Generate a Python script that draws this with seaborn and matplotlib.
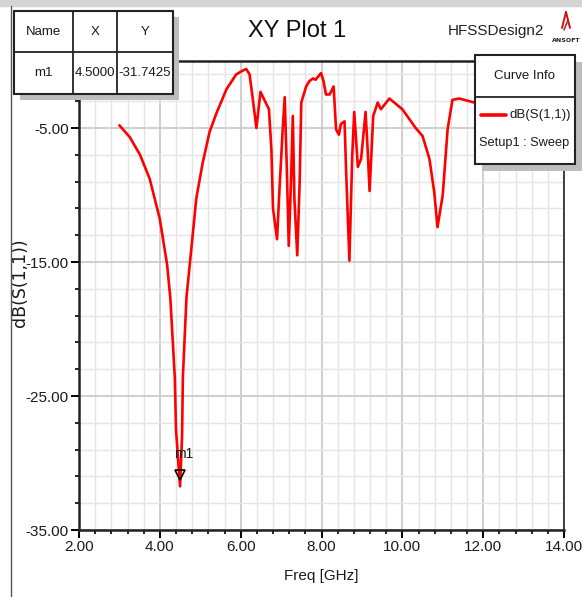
import matplotlib
matplotlib.use("Agg")
import matplotlib.pyplot as plt
import matplotlib.transforms as mtransforms
from matplotlib.patches import Rectangle
from matplotlib.lines import Line2D
from matplotlib.ticker import MultipleLocator, FixedLocator
import seaborn as sns
import pandas as pd

# S11 sweep (GHz, dB)
freq_ghz = [3.00, 3.26, 3.51, 3.75, 4.00, 4.18, 4.26, 4.37, 4.40, 4.50,
            4.55, 4.57, 4.66, 4.78, 4.90, 5.06, 5.23, 5.40, 5.65, 5.89,
            6.06, 6.14, 6.22, 6.26, 6.39, 6.49, 6.70, 6.76, 6.80, 6.90,
            6.96, 7.04, 7.09, 7.14, 7.19, 7.25, 7.29, 7.33, 7.40, 7.46,
            7.50, 7.62, 7.70, 7.79, 7.85, 7.99, 8.05, 8.11, 8.20, 8.30,
            8.36, 8.43, 8.48, 8.57, 8.61, 8.69, 8.76, 8.81, 8.90, 8.98,
            9.09, 9.14, 9.19, 9.28, 9.39, 9.47, 9.68, 10.00, 10.33, 10.50,
            10.67, 10.79, 10.87, 11.00, 11.12, 11.24, 11.41, 11.78, 12.00]
s11_db = [-4.8, -5.7, -7.0, -8.8, -11.8, -15.2, -17.7, -23.6, -27.5, -31.7425,
          -28.0, -23.6, -17.6, -14.0, -10.3, -7.6, -5.3, -3.9, -2.1, -1.0,
          -0.7, -0.6, -1.0, -1.9, -5.0, -2.3, -3.6, -6.6, -11.0, -13.3,
          -9.6, -5.1, -2.7, -7.8, -13.8, -8.6, -4.1, -10.3, -14.5, -9.0,
          -3.1, -1.9, -1.5, -1.3, -1.4, -0.9, -1.5, -2.5, -2.5, -1.9,
          -5.1, -5.5, -4.7, -4.5, -8.3, -14.9, -7.1, -3.8, -7.9, -7.3,
          -3.8, -6.5, -9.7, -4.1, -3.1, -3.6, -2.8, -3.6, -5.0, -5.6,
          -7.3, -9.8, -12.4, -10.0, -5.1, -2.9, -2.8, -3.1, -3.3]

# marker m1
marker_name = "m1"
marker_x = 4.5000
marker_y = -31.7425

x_ticks = [2, 4, 6, 8, 10, 12, 14]
y_ticks = [-35, -25, -15, -5]
curve_name = "dB(S(1,1))"
sweep_name = "Setup1 : Sweep"

sns.set_theme(style="white")
plt.rcParams["font.family"] = ["Liberation Sans", "DejaVu Sans"]

W, H = 582, 597
fig = plt.figure(figsize=(W / 100, H / 100), dpi=100)
fig.patch.set_facecolor("white")


def fx(px):
    return px / W


def fy(py):
    return 1 - py / H


ax = fig.add_axes([fx(79), fy(530), fx(564) - fx(79), fy(61) - fy(530)])
ax.set_facecolor("white")

df = pd.DataFrame({"Freq": freq_ghz, "S11": s11_db})
sns.lineplot(data=df, x="Freq", y="S11", ax=ax, color="#ff0000", lw=1.9,
             sort=False, zorder=4)

ax.set_xlim(2, 14)
ax.set_ylim(-35, 0)
ax.xaxis.set_major_locator(FixedLocator(x_ticks))
ax.xaxis.set_minor_locator(MultipleLocator(0.4))
ax.yaxis.set_major_locator(FixedLocator(y_ticks))
ax.yaxis.set_minor_locator(FixedLocator([v for v in range(-33, 0, 2)
                                         if v not in y_ticks]))
ax.set_xticklabels([f"{v:.2f}" for v in x_ticks])
ax.set_yticklabels([f"{v:.2f}" for v in y_ticks])

ax.grid(which="minor", color="#e5e5e5", lw=1.0, zorder=0)
ax.grid(which="major", color="#cbcbcb", lw=1.3, zorder=0)
ax.set_axisbelow(True)

ax.tick_params(axis="both", which="major", direction="out", length=6,
               width=1.4, color="black", labelsize=11, pad=1.5,
               labelcolor="#1a1a1a")
ax.tick_params(axis="both", which="minor", direction="out", length=3,
               width=1.2, color="black")
ax.tick_params(axis="x", which="both", bottom=True)
ax.tick_params(axis="y", which="both", left=True)

for side in ["left", "bottom", "top"]:
    ax.spines[side].set_color("#222222")
    ax.spines[side].set_linewidth(1.8)
ax.spines["right"].set_color("#222222")
ax.spines["right"].set_linewidth(1.2)

ax.set_xlabel("Freq [GHz]", fontsize=11, color="#1a1a1a", labelpad=0)
ax.xaxis.set_label_coords(0.5, (530 - 569) / 469)
ax.set_ylabel("dB(S(1,1))", fontsize=12.5, color="#1a1a1a",
              family=["DejaVu Sans"])
ax.yaxis.set_label_coords((29 - 79) / 485, (530 - 283) / 469)

# marker triangle and name
tri_off = mtransforms.ScaledTranslation(0, 11 / 100, fig.dpi_scale_trans)
ax.plot([marker_x], [marker_y], marker="v", ms=7, mfc="none", mec="black",
        mew=1.2, ls="none", zorder=5, transform=ax.transData + tri_off)
ax.annotate(marker_name, (marker_x, marker_y), xytext=(2.5, 23.5),
            textcoords="offset points", ha="center", va="center",
            fontsize=10, color="#1a1a1a", zorder=6)

# titles
fig.text(fx(297), fy(31), "XY Plot 1", fontsize=17, ha="center",
         va="center", color="#111111")
fig.text(fx(496), fy(31), "HFSSDesign2", fontsize=11, ha="center",
         va="center", color="#222222")
fig.add_artist(Line2D([fx(562), fx(566)], [fy(28), fy(12)], color="#cc1111",
                      lw=1.4, transform=fig.transFigure))
fig.add_artist(Line2D([fx(566), fx(570)], [fy(12), fy(28)], color="#cc1111",
                      lw=1.4, transform=fig.transFigure))
fig.add_artist(Line2D([fx(564), fx(568)], [fy(30), fy(20)], color="#cc1111",
                      lw=1.1, transform=fig.transFigure))
fig.text(fx(566), fy(41), "ANSOFT", fontsize=4.5, ha="center", va="center",
         color="#222222", family=["DejaVu Sans"], weight="bold")

# outer frame
fig.add_artist(Rectangle((0, fy(6)), 1, fy(0) - fy(6), color="#d4d4d4",
                         transform=fig.transFigure, zorder=1))
fig.add_artist(Line2D([fx(11), fx(11)], [fy(6), 0], color="#555555", lw=1.0,
                      transform=fig.transFigure))


def box(x0, y0, x1, y1, shadow=6, z=7):
    fig.add_artist(Rectangle((fx(x0 + shadow), fy(y1 + shadow)),
                             fx(x1 - x0), fy(y0) - fy(y1), facecolor="#bdbdbd",
                             edgecolor="none", transform=fig.transFigure,
                             zorder=z))
    fig.add_artist(Rectangle((fx(x0), fy(y1)), fx(x1 - x0), fy(y0) - fy(y1),
                             facecolor="white", edgecolor="#222222", lw=1.5,
                             transform=fig.transFigure, zorder=z + 0.1))


def hline(x0, x1, y, z=7.2):
    fig.add_artist(Line2D([fx(x0), fx(x1)], [fy(y), fy(y)], color="#222222",
                          lw=1.3, transform=fig.transFigure, zorder=z))


def vline(x, y0, y1, z=7.2):
    fig.add_artist(Line2D([fx(x), fx(x)], [fy(y0), fy(y1)], color="#222222",
                          lw=1.3, transform=fig.transFigure, zorder=z))


# marker table
box(14, 11, 173, 94)
hline(14, 173, 52)
vline(73, 11, 94)
vline(117, 11, 94)
cells = [("Name", 43.5, 32), ("X", 95, 32), ("Y", 145, 32),
         (marker_name, 43.5, 73), (f"{marker_x:.4f}", 95, 73),
         (f"{marker_y:.4f}", 145, 73)]
for txt, cx, cy in cells:
    fig.text(fx(cx), fy(cy), txt, fontsize=9.5, ha="center", va="center",
             color="#1a1a1a", zorder=8)

# curve info box
box(475, 55, 575, 164, shadow=7)
hline(475, 575, 97)
fig.text(fx(525), fy(76), "Curve Info", fontsize=9.5, ha="center",
         va="center", color="#1a1a1a", zorder=8)
fig.add_artist(Line2D([fx(481), fx(506)], [fy(115), fy(115)], color="#ff0000",
                      lw=2.6, transform=fig.transFigure, zorder=8))
fig.text(fx(571), fy(115), curve_name, fontsize=9.5, ha="right", va="center",
         color="#1a1a1a", zorder=8)
fig.text(fx(479), fy(143), sweep_name, fontsize=9.2, ha="left", va="center",
         color="#1a1a1a", zorder=8)

fig.savefig("out.png", dpi=100)
